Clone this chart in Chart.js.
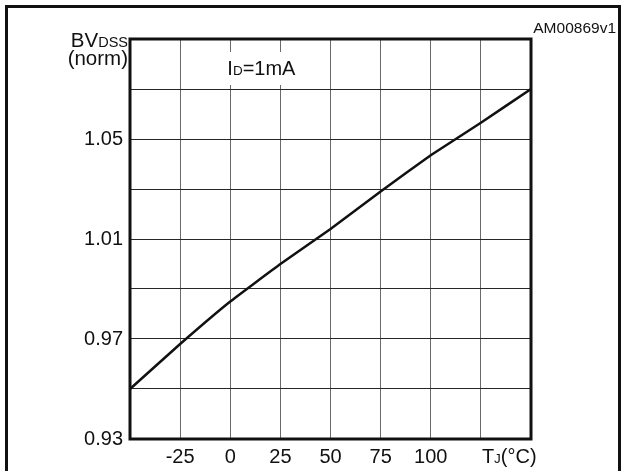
<!DOCTYPE html>
<html>
<head>
<meta charset="utf-8">
<script src="https://cdn.jsdelivr.net/npm/chart.js@4"></script>
<style>
  body { margin: 0; background: #fff; }
  #wrap { position: relative; width: 623px; height: 471px; overflow: hidden; }
  #frame { position: absolute; left: 5px; top: 5px; width: 616px; height: 480px;
           box-sizing: border-box; border: 3px solid #111; }
  canvas { position: absolute; left: 0; top: 0; }
</style>
</head>
<body>
<div id="wrap">
  <div id="frame"></div>
  <canvas id="bvChart" width="623" height="471"></canvas>
</div>
<script>
// junction temperature (°C) and normalized breakdown voltage
const temps = [-50, -25, 0, 25, 50, 75, 100, 125, 150];
const bvdss = [0.950, 0.968, 0.985, 1.000, 1.014, 1.029, 1.0435, 1.0565, 1.070];
const yTickLabels = [0.93, 0.97, 1.01, 1.05];
const xTickLabels = [-25, 0, 25, 50, 75, 100];

const FONT = '"Liberation Sans", Arial, sans-serif';

const chartText = {
  id: 'chartText',
  beforeDatasetsDraw(chart) {
    const c = chart.ctx, xs = chart.scales.x, ys = chart.scales.y;
    // white box behind condition note
    const nx = xs.getPixelForValue(16), ny = ys.getPixelForValue(1.078);
    c.save();
    c.fillStyle = '#fff';
    c.fillRect(nx - 47, ny - 17, 94, 33);
    c.fillStyle = '#111';
    c.textBaseline = 'alphabetic';
    c.font = '20px ' + FONT;
    let x = nx - 35, base = ny + 6;
    c.fillText('I', x, base); x += c.measureText('I').width;
    c.font = '13.5px ' + FONT;
    c.fillText('D', x, base); x += c.measureText('D').width;
    c.font = '20px ' + FONT;
    c.fillText('=1mA', x, base);
    c.restore();
  },
  afterDraw(chart) {
    const c = chart.ctx, a = chart.chartArea, xs = chart.scales.x;
    c.save();
    c.strokeStyle = '#111';
    c.lineWidth = 3;
    c.strokeRect(a.left, a.top, a.right - a.left, a.bottom - a.top);
    c.fillStyle = '#111';
    c.textBaseline = 'alphabetic';
    // y title
    c.textAlign = 'right';
    c.font = '20.5px ' + FONT;
    c.fillText('(norm)', 128, 65);
    c.font = '14.5px ' + FONT;
    c.fillText('DSS', 128, 47);
    const w = c.measureText('DSS').width;
    c.font = '20.5px ' + FONT;
    c.fillText('BV', 128 - w, 47);
    // x title
    c.textAlign = 'left';
    let tx = xs.getPixelForValue(125) + 1;
    c.font = '20px ' + FONT;
    c.fillText('T', tx, 463); tx += c.measureText('T').width;
    c.font = '13.5px ' + FONT;
    c.fillText('J', tx, 463); tx += c.measureText('J').width;
    c.font = '20px ' + FONT;
    c.fillText('(°C)', tx, 463);
    // figure code
    c.textAlign = 'right';
    c.font = '15.5px ' + FONT;
    c.fillText('AM00869v1', 616, 33);
    c.restore();
  }
};

var ctx = document.getElementById('bvChart').getContext('2d');
var bvChart = new Chart(ctx, {
  type: 'line',
  data: {
    datasets: [{
      data: temps.map((t, i) => ({ x: t, y: bvdss[i] })),
      borderColor: '#111',
      borderWidth: 2.5,
      pointRadius: 0,
      tension: 0.1,
      fill: false
    }]
  },
  options: {
    responsive: false,
    animation: false,
    devicePixelRatio: 1,
    layout: { padding: { top: 39, right: 92, left: 0, bottom: 0 } },
    plugins: { legend: { display: false }, tooltip: { enabled: false } },
    scales: {
      x: {
        type: 'linear', min: -50, max: 150,
        afterFit(s) { s.height = 32; },
        border: { display: false },
        grid: { color: '#6a6a6a', lineWidth: 1, drawTicks: false },
        ticks: {
          stepSize: 25, padding: 6, color: '#111', maxRotation: 0, autoSkip: false,
          font: { family: FONT, size: 20 },
          callback: v => xTickLabels.includes(v) ? String(v) : ''
        }
      },
      y: {
        type: 'linear', min: 0.93, max: 1.09,
        afterFit(s) { s.width = 130; },
        border: { display: false },
        grid: { color: '#262626', lineWidth: 1, drawTicks: false },
        ticks: {
          stepSize: 0.02, padding: 7, color: '#111',
          font: { family: FONT, size: 20 },
          callback: v => {
            const hit = yTickLabels.find(t => Math.abs(t - v) < 1e-6);
            return hit !== undefined ? hit.toFixed(2) : '';
          }
        }
      }
    }
  },
  plugins: [chartText]
});
</script>
</body>
</html>
